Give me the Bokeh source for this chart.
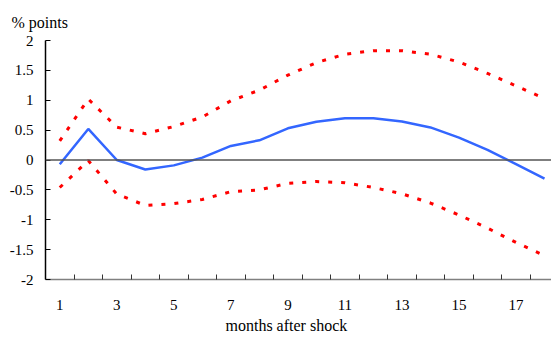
from bokeh.plotting import figure
from bokeh.models import Range1d, FixedTicker, Span, Title
from bokeh.embed import file_html
from bokeh.resources import INLINE

months = list(range(1, 19))
center = [-0.07, 0.52, 0.0, -0.16, -0.09, 0.04, 0.235, 0.33, 0.53, 0.64, 0.70, 0.70,
          0.645, 0.545, 0.375, 0.17, -0.07, -0.31]
upper = [0.32, 1.02, 0.55, 0.44, 0.56, 0.72, 0.99, 1.17, 1.42, 1.63, 1.77, 1.83,
         1.83, 1.77, 1.64, 1.45, 1.24, 1.03]
lower = [-0.46, -0.01, -0.57, -0.76, -0.73, -0.66, -0.53, -0.50, -0.39, -0.36, -0.38, -0.46,
         -0.565, -0.72, -0.92, -1.14, -1.38, -1.60]
y_ticks = [-2, -1.5, -1, -0.5, 0, 0.5, 1, 1.5, 2]
y_tick_labels = ["-2", "-1.5", "-1", "-0.5", "0", "0.5", "1", "1.5", "2"]
x_label_ticks = [1, 3, 5, 7, 9, 11, 13, 15, 17]
y_title = "% points"
x_title = "months after shock"

FONT = "Liberation Serif"

p = figure(width=551, height=336, output_backend="svg", toolbar_location=None,
           x_range=Range1d(0.5, 18.245), y_range=Range1d(-2, 2),
           min_border_left=45, min_border_right=0, min_border_top=40, min_border_bottom=57)
p.outline_line_color = None
p.xgrid.grid_line_color = None
p.ygrid.grid_line_color = None
p.background_fill_color = "white"
p.border_fill_color = "white"

# y axis
ya = p.yaxis[0]
ya.ticker = FixedTicker(ticks=y_ticks)
ya.major_label_overrides = {t: l for t, l in zip(y_ticks, y_tick_labels)}
ya.axis_line_color = "black"
ya.axis_line_width = 1.5
ya.major_tick_in = 5
ya.major_tick_out = 0
ya.major_tick_line_color = "black"
ya.minor_tick_line_color = None
ya.major_label_standoff = 12
ya.major_label_text_font = FONT
ya.major_label_text_font_size = "15px"
ya.major_label_text_color = "black"

# x axis
xa = p.xaxis[0]
xa.ticker = FixedTicker(ticks=x_label_ticks, minor_ticks=[m + 0.5 for m in months])
xa.axis_line_color = "#808080"
xa.axis_line_width = 1.5
xa.major_tick_line_color = None
xa.minor_tick_in = 5
xa.minor_tick_out = 0
xa.minor_tick_line_color = "#333333"
xa.major_label_standoff = 14
xa.major_label_text_font = FONT
xa.major_label_text_font_size = "15px"
xa.major_label_text_color = "black"

p.add_layout(Span(location=0, dimension="width", line_color="#555555", line_width=1.5))

p.line(months, upper, line_color="#FF0000", line_width=3, line_dash="4 9")
p.line(months, lower, line_color="#FF0000", line_width=3, line_dash="4 9")
p.line(months, center, line_color="#3366FF", line_width=2.5)

p.add_layout(Title(text=y_title, align="left", offset=-34, text_font=FONT,
                   text_font_size="16px", text_font_style="normal", text_color="black",
                   standoff=20), "above")
p.add_layout(Title(text=x_title, align="left", offset=180, text_font=FONT,
                   text_font_size="16px", text_font_style="normal", text_color="black",
                   standoff=5), "below")

open("out.html", "w").write(file_html(p, INLINE))
